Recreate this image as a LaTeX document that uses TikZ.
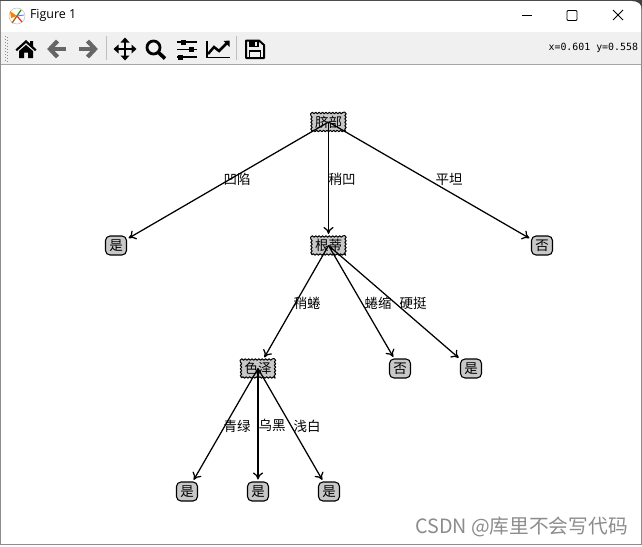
\documentclass[tikz,border=0pt]{standalone}
\usepackage{fontspec}
\setmainfont{Noto Sans CJK SC}
\newfontfamily\uifont{Open Sans}
\newfontfamily\monof{DejaVu Sans Mono}
\usetikzlibrary{arrows.meta,decorations.pathmorphing,shapes.geometric}
\definecolor{barbg}{HTML}{F0F0F0}
\definecolor{nodebg}{HTML}{C8C8C8}
\definecolor{icongrey}{HTML}{666666}
\tikzset{
  x=1pt,y=-1pt,
  every node/.style={font=\fontsize{13.5}{14}\selectfont,inner sep=0pt,outer sep=0pt},
  decnode/.style={fill=nodebg,minimum width=34pt,minimum height=18pt,
    draw=black,line width=1pt,line join=round,decorate,decoration={zigzag,segment length=3.4pt,amplitude=0.7pt,pre=lineto,pre length=1pt,post=lineto,post length=1pt}},
  leafnode/.style={fill=nodebg,draw=black,line width=1.1pt,rounded corners=4.5pt,minimum width=21pt,minimum height=19pt},
  edge/.style={draw=black,line width=1.25pt,-{To[length=7pt,width=10pt,line width=1.25pt]},shorten >=2.5pt},
  elabel/.style={fill=none},
  tool/.style={fill=black,draw=none},
  toolline/.style={draw=black,line width=2pt},
}
\begin{document}
\begin{tikzpicture}
\useasboundingbox (0,0) rectangle (642,546);
% window
\fill[white] (0,0) rectangle (642,546);
\fill[barbg] (1,32) rectangle (641,64);
\draw[black!35,line width=0.8pt] (0,64.5) -- (642,64.5);
\draw[black!45,line width=1pt] (0.5,0) -- (0.5,544.5) -- (641.5,544.5) -- (641.5,0);
\draw[black!70,line width=1pt] (0,0.5) -- (642,0.5);
\fill[black!75] (632,0) -- (642,0) -- (642,10) .. controls (642,4) and (638,1) .. (632,1) -- cycle;
% title bar
\fill[white,draw=black!25,line width=0.5pt] (17,16) circle (8);
\fill[orange] (17,16) -- (10,11) -- (11,18) -- cycle;
\draw[green!60!black,line width=1.2pt] (17,16) -- (21,10);
\draw[red!70!orange,line width=1.2pt] (17,16) -- (22,22);
\draw[orange!70!black,line width=1.2pt] (17,16) -- (12,23);
\draw[blue!60,line width=0.8pt] (17,16) -- (24,15);
\node[anchor=west,font=\uifont\fontsize{12.5}{13}\selectfont] (title) at (30,15.5) {Figure 1};
\draw[black,line width=0.9pt] (522,15.5) -- (532,15.5);
\draw[black,line width=0.9pt,rounded corners=1pt] (567,10.5) rectangle (577,20.5);
\draw[black,line width=0.9pt] (613,10) -- (623,20) (623,10) -- (613,20);
\node[anchor=east,font=\monof\fontsize{9.9}{10}\selectfont] (coords) at (638,48) {x=0.601 y=0.558};
% gripper
\foreach \yy in {36,39,...,60} {\fill[black!45] (5,\yy) rectangle +(1,1); \fill[black!45] (7,\yy+1) rectangle +(1,1);}
\draw[black!25,line width=0.8pt] (106.5,36) -- (106.5,60);
\draw[black!25,line width=0.8pt] (236.5,36) -- (236.5,60);
% home
\fill[tool] (15.5,49.5) -- (26,40) -- (30,43.5) -- (30,41) -- (33,41) -- (33,46.3) -- (36.5,49.5) -- (35,51) -- (26,43) -- (17,51) -- cycle;
\fill[tool] (19,51) -- (26,45) -- (33,51) -- (33,58) -- (28,58) -- (28,52.5) -- (24,52.5) -- (24,58) -- (19,58) -- cycle;
% back and forward
\draw[icongrey,line width=4.2pt,line join=miter] (66,49) -- (50,49);
\draw[icongrey,line width=4.2pt] (57.5,41) -- (50,49) -- (57.5,57);
\draw[icongrey,line width=4.2pt] (79,49) -- (95,49);
\draw[icongrey,line width=4.2pt] (87.5,41) -- (95,49) -- (87.5,57);
% move
\draw[toolline,line width=2.4pt] (125,41) -- (125,57) (117,49) -- (133,49);
\fill[tool] (125,37.5) -- (129.5,42.5) -- (120.5,42.5) -- cycle;
\fill[tool] (125,60.5) -- (129.5,55.5) -- (120.5,55.5) -- cycle;
\fill[tool] (113.5,49) -- (118.5,44.5) -- (118.5,53.5) -- cycle;
\fill[tool] (136.5,49) -- (131.5,44.5) -- (131.5,53.5) -- cycle;
% zoom
\draw[toolline,line width=2.8pt] (153.5,47.5) circle (6.5);
\draw[toolline,line width=3.6pt] (158.5,52.5) -- (165,58.5);
% sliders
\draw[toolline,line width=1.4pt] (177,42) -- (197,42) (177,49.5) -- (197,49.5) (177,57) -- (197,57);
\fill[tool] (181,39.5) rectangle (186,44.5);
\fill[tool] (189,47) rectangle (194,52);
\fill[tool] (178,54.5) rectangle (183,59.5);
% chart
\draw[toolline,line width=1.5pt] (207,41) -- (207,57.5) -- (230,57.5);
\draw[toolline,line width=2.5pt] (208,54) -- (214,47) -- (219,51) -- (227,43);
\fill[tool] (229.5,40.5) -- (229.5,47) -- (223.5,41) -- cycle;
% save
\draw[toolline,line join=round] (246,40.5) -- (259,40.5) -- (264,45) -- (264,58) -- (246,58) -- cycle;
\fill[tool] (249,41) rectangle (259,46.5);
\fill[barbg] (254.5,42) rectangle (257,45.5);
\draw[toolline,line width=1.5pt] (249.5,57.5) -- (249.5,51) -- (260.5,51) -- (260.5,57.5);
% tree nodes
\node[decnode] (n1) at (328.5,122) {脐部};
\node[decnode] (n2) at (328.5,245.5) {根蒂};
\node[decnode] (n3) at (258,368.5) {色泽};
\node[leafnode] (l1) at (116,245.5) {是};
\node[leafnode] (l2) at (542,245.5) {否};
\node[leafnode] (l3) at (400,368.5) {否};
\node[leafnode] (l4) at (471,368.5) {是};
\node[leafnode] (l5) at (187,491.5) {是};
\node[leafnode] (l6) at (258,491.5) {是};
\node[leafnode] (l7) at (329,491.5) {是};
% edges
\draw[edge] (n1.center) -- (l1);
\draw[edge] (n1.center) -- (n2);
\draw[edge] (n1.center) -- (l2);
\draw[edge] (n2.center) -- (n3);
\draw[edge] (n2.center) -- (l3);
\draw[edge] (n2.center) -- (l4);
\draw[edge] (n3.center) -- (l5);
\draw[edge] (n3.center) -- (l6);
\draw[edge] (n3.center) -- (l7);
% edge labels
\node[elabel] (e1) at (237,179) {凹陷};
\node[elabel] (e2) at (342,179) {稍凹};
\node[elabel] (e3) at (449,179) {平坦};
\node[elabel] (e4) at (307,303) {稍蜷};
\node[elabel] (e5) at (378,303) {蜷缩};
\node[elabel] (e6) at (413,303) {硬挺};
\node[elabel] (e7) at (237,426) {青绿};
\node[elabel] (e8) at (272,425) {乌黑};
\node[elabel] (e9) at (307,426) {浅白};
% watermark
\node[text=black!45,font=\fontsize{19.7}{20}\selectfont] (wm) at (521.5,527) {CSDN @库里不会写代码};
\end{tikzpicture}
\end{document}
